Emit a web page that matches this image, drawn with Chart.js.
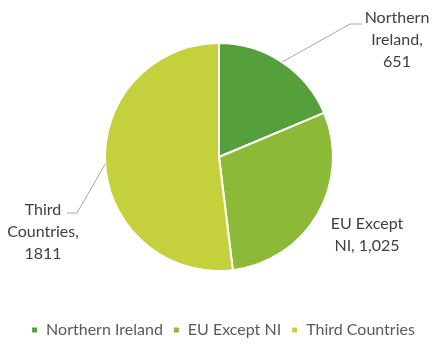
<!DOCTYPE html>
<html>
<head>
<meta charset="utf-8">
<script src="https://cdn.jsdelivr.net/npm/chart.js@4.4.0/dist/chart.umd.min.js"></script>
<style>
html, body { margin: 0; padding: 0; background: #fff; }
</style>
</head>
<body>
<canvas id="Chart_1" width="438" height="360"></canvas>
<script>
let categories = ['Northern Ireland', 'EU Except NI', 'Third Countries'];
let values = [651, 1025, 1811];
let labelLines = [['Northern', 'Ireland,', '651'], ['EU Except', 'NI, 1,025'], ['Third', 'Countries,', '1811']];
let colors = ['#56a03c', '#8cba38', '#c4d13c'];

// where each outside label goes (centre x, first line y) + leader elbow
let labelSpots = [
  {x: 397, y: 18, elbow: [350, 24], end: 362},
  {x: 367, y: 224},
  {x: 43, y: 210, elbow: [77, 213], end: 67}
];

let outsideLabels = {
  id: 'outsideLabels',
  afterLayout(chart) {
    // legend sits a few px right of centre in the original
    chart.legend.left += 4;
    chart.legend.right += 4;
  },
  afterDatasetsDraw(chart) {
    let ctx = chart.ctx;
    let arcs = chart.getDatasetMeta(0).data;
    ctx.save();
    arcs.forEach((arc, i) => {
      let spot = labelSpots[i];
      if (spot.elbow) {
        let p = arc.getProps(['x', 'y', 'startAngle', 'endAngle', 'outerRadius'], true);
        let mid = (p.startAngle + p.endAngle) / 2;
        ctx.beginPath();
        ctx.moveTo(p.x + Math.cos(mid) * p.outerRadius, p.y + Math.sin(mid) * p.outerRadius);
        ctx.lineTo(spot.elbow[0], spot.elbow[1]);
        ctx.lineTo(spot.end, spot.elbow[1]);
        ctx.strokeStyle = '#a6a6a6';
        ctx.lineWidth = 1;
        ctx.stroke();
      }
      ctx.fillStyle = '#404040';
      ctx.font = '16px Lato';
      ctx.textAlign = 'center';
      ctx.textBaseline = 'middle';
      labelLines[i].forEach((t, j) => ctx.fillText(t, spot.x, spot.y + j * 22));
    });
    ctx.restore();
  }
};

let cxt = document.getElementById('Chart_1');
let grafico = new Chart(cxt, {
  type: 'pie',
  data: {
    labels: categories,
    datasets: [{
      data: values,
      backgroundColor: colors,
      borderColor: '#ffffff',
      borderWidth: 2,
      radius: 114
    }]
  },
  options: {
    responsive: false,
    animation: false,
    devicePixelRatio: 1,
    layout: {padding: {top: 2, bottom: 12, left: 0, right: 0}},
    plugins: {
      tooltip: {enabled: false},
      legend: {
        position: 'bottom',
        labels: {
          boxWidth: 7,
          boxHeight: 7,
          padding: 10,
          color: '#595959',
          font: {family: 'Lato', size: 16}
        }
      }
    }
  },
  plugins: [outsideLabels]
});
</script>
</body>
</html>
